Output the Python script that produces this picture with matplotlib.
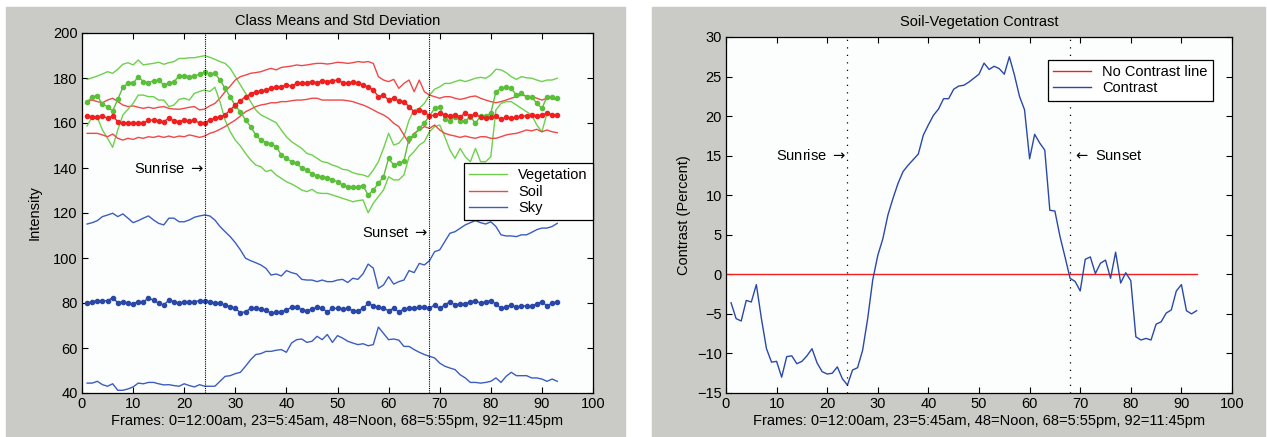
import matplotlib
matplotlib.use('Agg')
import matplotlib.pyplot as plt
from matplotlib.patches import Rectangle

plt.rcParams['font.family'] = ['Liberation Sans', 'DejaVu Sans']

# frame numbers 1..93
frames = list(range(1, 94))

veg_mean = [169.2, 171.7, 172.0, 168.3, 167.3, 165.3, 170.5, 175.9, 177.6, 177.6,
            180.6, 178.4, 177.9, 178.8, 179.1, 176.9, 177.6, 178.4, 180.9, 181.0,
            180.6, 180.9, 181.6, 182.7, 181.6, 182.1, 179.1, 175.4, 171.7, 167.6,
            165.0, 161.3, 158.4, 154.7, 152.4, 151.3, 150.7, 149.5, 145.8, 144.3,
            142.8, 142.1, 139.9, 139.1, 137.3, 136.4, 136.1, 135.7, 134.7, 133.9,
            132.4, 131.7, 131.7, 131.7, 132.1, 128.0, 130.2, 133.2, 136.1, 144.3,
            141.3, 142.1, 143.1, 153.2, 154.7, 157.6, 160.1, 163.1, 166.5, 167.3,
            161.6, 161.0, 162.8, 160.9, 161.0, 162.8, 159.9, 163.1, 163.1, 164.3,
            173.9, 175.4, 175.9, 175.4, 172.4, 173.2, 171.7, 171.7, 168.7, 166.5,
            171.7, 171.7, 171.0]
veg_hi = [179.4, 180.1, 180.9, 181.8, 182.8, 182.1, 183.9, 186.1, 186.8, 185.8,
          188.0, 185.8, 186.2, 186.5, 187.0, 186.1, 186.8, 187.3, 188.7, 188.7,
          189.0, 189.0, 189.5, 189.9, 189.2, 188.3, 187.3, 186.5, 184.3, 180.6,
          176.9, 173.2, 169.5, 165.8, 163.6, 162.5, 161.3, 160.1, 156.9, 153.9,
          151.7, 150.2, 148.7, 146.5, 145.8, 144.3, 142.8, 142.4, 141.3, 140.6,
          139.4, 139.1, 137.9, 137.3, 136.9, 136.1, 139.1, 142.8, 148.7, 155.4,
          150.2, 151.0, 153.9, 161.3, 165.8, 166.5, 168.7, 172.4, 175.0, 176.1,
          177.6, 177.6, 178.4, 179.1, 178.4, 179.1, 179.9, 180.3, 179.9, 181.3,
          183.9, 183.6, 182.4, 180.6, 179.4, 180.6, 180.1, 179.9, 179.1, 178.4,
          179.1, 179.1, 179.9]
veg_lo = [158.7, 162.8, 162.5, 156.9, 153.2, 149.2, 156.9, 163.6, 166.1, 168.7,
          172.4, 172.4, 171.7, 171.7, 170.2, 170.2, 167.3, 168.0, 170.5, 171.0,
          170.2, 173.2, 174.0, 174.7, 174.0, 175.9, 169.5, 161.3, 156.1, 152.4,
          149.8, 146.5, 143.6, 141.3, 140.6, 138.4, 139.1, 136.9, 135.4, 133.9,
          132.9, 131.7, 130.2, 129.5, 130.5, 129.0, 128.7, 128.7, 128.0, 127.3,
          126.5, 125.8, 125.0, 125.5, 125.8, 120.1, 124.3, 127.3, 130.2, 136.1,
          134.7, 134.7, 136.9, 145.0, 147.3, 150.2, 151.7, 156.1, 158.4, 159.1,
          153.9, 148.0, 144.3, 148.7, 145.0, 142.8, 148.7, 142.8, 142.8, 145.0,
          165.8, 168.7, 169.5, 169.5, 168.0, 166.5, 165.0, 163.6, 159.1, 156.1,
          164.3, 163.6, 162.5]

soil_mean = [163.1, 162.8, 162.5, 163.1, 162.1, 163.1, 160.6, 159.9, 160.1, 159.9,
             159.9, 159.9, 161.3, 161.3, 161.0, 160.6, 162.1, 161.0, 160.6, 161.3,
             161.0, 161.3, 159.9, 160.1, 161.3, 162.1, 162.8, 163.6, 165.8, 168.0,
             169.9, 171.7, 172.9, 173.9, 174.2, 174.7, 175.4, 175.9, 176.1, 176.9,
             176.4, 177.6, 177.9, 177.9, 178.4, 177.9, 178.8, 178.4, 178.8, 179.1,
             177.9, 177.6, 178.4, 177.6, 176.9, 175.9, 174.7, 171.7, 172.4, 170.2,
             171.0, 169.8, 169.5, 167.3, 165.0, 165.8, 165.0, 163.1, 163.6, 164.3,
             163.6, 163.1, 163.6, 162.8, 164.3, 163.1, 164.0, 162.5, 162.1, 162.5,
             163.1, 161.6, 162.5, 162.1, 162.5, 163.1, 163.1, 163.6, 163.1, 163.6,
             164.3, 163.6, 163.6]
soil_hi = [169.9, 170.2, 169.5, 169.0, 170.2, 171.0, 169.5, 168.0, 167.3, 167.6,
           167.0, 166.5, 167.0, 166.5, 167.0, 167.3, 166.5, 166.2, 166.1, 166.5,
           167.0, 167.3, 165.8, 166.2, 167.6, 168.7, 171.0, 173.9, 176.4, 179.1,
           180.6, 181.3, 182.1, 182.4, 182.8, 183.6, 184.3, 183.6, 184.7, 185.0,
           185.3, 185.8, 185.5, 185.8, 186.2, 186.5, 186.5, 186.2, 186.5, 187.0,
           186.8, 186.5, 186.8, 187.3, 187.0, 187.3, 186.5, 180.6, 179.1, 178.4,
           179.4, 175.4, 177.6, 179.1, 173.9, 179.1, 173.9, 172.4, 171.7, 171.0,
           171.7, 171.7, 171.0, 170.5, 171.0, 171.7, 172.0, 171.0, 170.2, 169.5,
           169.0, 169.5, 170.2, 171.0, 171.7, 172.4, 172.0, 171.7, 171.0, 170.2,
           171.0, 171.0, 170.2]
soil_lo = [155.4, 155.4, 155.4, 154.7, 153.9, 155.1, 153.2, 152.4, 153.2, 152.7,
           153.6, 153.2, 153.9, 153.6, 154.2, 153.6, 154.2, 153.6, 154.2, 153.9,
           154.7, 154.2, 153.6, 154.2, 155.4, 156.1, 157.2, 158.4, 159.9, 161.3,
           163.1, 165.0, 166.1, 167.3, 168.0, 168.4, 169.0, 169.0, 169.5, 169.5,
           169.9, 170.2, 170.2, 170.5, 171.0, 171.0, 170.2, 170.2, 170.2, 170.2,
           170.2, 169.9, 169.5, 168.7, 168.0, 167.0, 165.8, 164.6, 163.6, 162.1,
           159.9, 158.4, 154.7, 151.0, 155.4, 156.9, 158.4, 157.6, 159.1, 156.9,
           155.4, 154.7, 154.2, 153.6, 154.2, 153.6, 153.2, 153.9, 153.9, 153.2,
           153.2, 153.9, 154.7, 155.1, 155.4, 156.1, 156.9, 156.5, 157.2, 156.1,
           156.9, 156.1, 155.7]

sky_mean = [79.9, 80.6, 81.0, 81.0, 81.0, 82.4, 80.1, 80.6, 79.9, 79.6,
            80.6, 80.6, 82.1, 81.3, 79.9, 79.1, 81.3, 80.6, 79.9, 80.6,
            80.6, 80.6, 81.0, 81.0, 80.6, 79.9, 79.9, 79.1, 78.4, 77.6,
            75.7, 76.1, 77.6, 77.6, 77.2, 76.9, 75.4, 76.1, 76.1, 76.9,
            78.1, 78.4, 76.9, 76.6, 77.2, 78.1, 77.6, 76.1, 77.6, 77.6,
            77.2, 77.6, 76.6, 76.6, 77.6, 79.9, 78.7, 78.1, 77.6, 76.6,
            77.6, 76.1, 77.2, 77.6, 77.6, 78.1, 78.1, 77.6, 79.1, 77.6,
            79.1, 80.6, 79.1, 79.6, 79.6, 80.6, 81.0, 79.9, 80.6, 81.0,
            79.6, 77.6, 78.4, 79.1, 78.1, 78.7, 78.7, 78.7, 79.6, 80.6,
            78.7, 79.9, 80.6]
sky_hi = [115.1, 115.7, 116.6, 118.4, 119.1, 119.9, 118.4, 119.6, 117.7, 115.7,
          116.6, 117.7, 118.7, 116.9, 115.4, 114.7, 117.7, 117.7, 116.1, 116.1,
          116.9, 118.1, 118.7, 119.1, 118.7, 116.9, 114.0, 111.7, 109.5, 106.8,
          103.6, 99.9, 98.8, 97.9, 96.9, 95.4, 92.4, 92.9, 92.0, 94.4,
          93.5, 92.9, 90.5, 90.2, 90.2, 89.5, 90.2, 89.5, 89.5, 90.2,
          90.5, 89.1, 91.0, 90.5, 93.0, 97.3, 95.5, 86.5, 88.0, 91.7,
          88.4, 89.5, 90.2, 94.4, 93.5, 97.6, 96.9, 98.8, 102.8, 103.6,
          107.3, 111.0, 111.7, 113.2, 114.7, 115.7, 116.6, 115.7, 115.1, 116.1,
          114.0, 110.3, 109.8, 109.8, 109.5, 110.3, 110.3, 111.4, 112.6, 113.3,
          113.3, 114.0, 115.4]
sky_lo = [44.4, 44.4, 45.2, 43.7, 43.0, 44.1, 41.2, 41.2, 41.8, 42.7,
          44.4, 44.1, 44.7, 44.7, 44.1, 43.6, 43.7, 43.3, 43.0, 44.1,
          43.3, 42.7, 43.7, 43.0, 43.0, 43.0, 45.2, 47.4, 47.7, 48.6,
          49.2, 51.9, 54.8, 57.1, 57.5, 58.5, 58.5, 59.0, 59.3, 58.1,
          62.2, 63.7, 64.0, 62.5, 63.0, 65.2, 63.7, 66.0, 62.5, 65.5,
          64.4, 63.0, 62.2, 61.5, 61.9, 61.0, 61.5, 69.3, 66.5, 63.7,
          64.0, 63.5, 60.7, 60.7, 59.3, 58.1, 57.1, 56.3, 55.6, 53.3,
          51.9, 51.1, 50.4, 48.1, 46.7, 44.7, 44.7, 44.4, 44.7, 45.2,
          46.7, 44.7, 47.4, 49.2, 47.7, 47.7, 47.7, 46.7, 46.7, 46.2,
          45.2, 46.2, 45.2]

contrast = [-3.6, -5.6, -5.9, -3.3, -3.5, -1.3, -5.6, -9.4, -11.1, -11.0,
            -13.0, -10.4, -10.3, -11.3, -11.0, -10.3, -9.4, -11.2, -12.3, -12.6,
            -12.5, -11.7, -13.2, -14.0, -12.1, -11.8, -9.6, -5.6, -0.7, 2.4,
            4.5, 7.5, 9.6, 11.5, 13.0, 13.8, 14.5, 15.2, 17.6, 18.9,
            20.1, 20.9, 22.2, 22.2, 23.4, 23.8, 23.9, 24.3, 24.8, 25.3,
            26.7, 25.9, 26.3, 26.0, 25.3, 27.5, 25.2, 22.5, 20.8, 14.6,
            17.7, 16.6, 15.7, 8.1, 8.0, 4.8, 2.2, -0.5, -0.9, -2.1,
            1.9, 2.2, 0.1, 1.4, 1.8, -0.5, 2.8, -1.1, 0.2, -0.8,
            -7.9, -8.3, -8.1, -8.3, -6.3, -6.0, -4.9, -4.5, -2.1, -1.3,
            -4.6, -5.0, -4.6]

zero_x = [0, 93]
zero_y = [0, 0]

sunrise_frame = 24
sunset_frame = 68

GREEN = '#5cbf3a'
GREEN_L = '#6fd04c'
RED = '#f02020'
RED_L = '#f04848'
BLUE = '#2a48a8'
BLUE_L = '#3c5cc0'
PANEL = '#cacac7'
FACE = '#fcfefe'

# mathtext arrows are longer than the Liberation glyphs, closer to the original
RARROW = r'$\rightarrow$'
LARROW = r'$\leftarrow$'


def style_axes(ax):
    ax.set_facecolor(FACE)
    ax.set_xlim(0, 100)
    ax.set_xticks(range(0, 101, 10))
    ax.tick_params(direction='in', top=True, right=True, length=4,
                   labelsize=10.5, width=0.8, pad=3)
    for s in ax.spines.values():
        s.set_linewidth(0.9)


fig = plt.figure(figsize=(12.67, 4.37), dpi=100)
fig.patch.set_facecolor('white')
# grey panels behind each axes
for x0, w in [(6, 619), (652, 613)]:
    fig.add_artist(Rectangle((x0 / 1267, 0), w / 1267, 430 / 437,
                             transform=fig.transFigure, color=PANEL, zorder=-10))

# left: class means and std deviation
ax1 = fig.add_axes([82 / 1267, 44 / 437, 511 / 1267, 360 / 437])
style_axes(ax1)
ax1.set_ylim(40, 200)
ax1.set_yticks(range(40, 201, 20))

ax1.plot(frames, veg_hi, color=GREEN_L, lw=1, label='Vegetation')
ax1.plot(frames, soil_hi, color=RED_L, lw=1, label='Soil')
ax1.plot(frames, sky_hi, color=BLUE_L, lw=1, label='Sky')
ax1.plot(frames, veg_lo, color=GREEN_L, lw=1)
ax1.plot(frames, soil_lo, color=RED_L, lw=1)
ax1.plot(frames, sky_lo, color=BLUE_L, lw=1)
ax1.plot(frames, veg_mean, color=GREEN, lw=1, marker='o', ms=3.0, mec=GREEN)
ax1.plot(frames, soil_mean, color=RED, lw=1, marker='o', ms=3.0, mec=RED)
ax1.plot(frames, sky_mean, color=BLUE, lw=1, marker='o', ms=3.0, mec=BLUE)

ax1.axvline(sunrise_frame, color='black', lw=0.8, ls=(0, (1, 1)))
ax1.axvline(sunset_frame, color='black', lw=0.8, ls=(0, (1, 1)))
ax1.text(sunrise_frame - 0.2, 139.6, 'Sunrise ' + RARROW, ha='right', va='center', fontsize=10.5)
ax1.text(sunset_frame - 0.2, 111.0, 'Sunset ' + RARROW, ha='right', va='center', fontsize=10.5)

leg1 = ax1.legend(loc='upper right', bbox_to_anchor=(1.0, 0.638), borderaxespad=0,
                  fontsize=10.5, fancybox=False, edgecolor='black', framealpha=1,
                  handlelength=2.6, borderpad=0.35, labelspacing=0.15, handletextpad=0.8)
leg1.get_frame().set_linewidth(0.9)

ax1.set_title('Class Means and Std Deviation', fontsize=10.5, pad=6)
ax1.set_xlabel('Frames: 0=12:00am, 23=5:45am, 48=Noon, 68=5:55pm, 92=11:45pm',
               fontsize=10.5, labelpad=2)
ax1.set_ylabel('Intensity', fontsize=10.5, labelpad=8)

# right: soil-vegetation contrast
ax2 = fig.add_axes([726 / 1267, 44 / 437, 506 / 1267, 356 / 437])
style_axes(ax2)
ax2.set_ylim(-15, 30)
ax2.set_yticks(range(-15, 31, 5))

ax2.plot(zero_x, zero_y, color=RED, lw=1, label='No Contrast line')
ax2.plot(frames, contrast, color=BLUE, lw=1, label='Contrast')
ax2.axvline(sunrise_frame, color='black', lw=0.9, ls=(0, (1, 5)))
ax2.axvline(sunset_frame, color='black', lw=0.9, ls=(0, (1, 5)))
ax2.text(sunrise_frame - 0.3, 15.0, 'Sunrise ' + RARROW, ha='right', va='center', fontsize=10.5)
ax2.text(sunset_frame + 0.5, 15.0, LARROW + ' Sunset', ha='left', va='center', fontsize=10.5)

leg2 = ax2.legend(loc='upper right', bbox_to_anchor=(0.962, 0.935), borderaxespad=0,
                  fontsize=10.5, fancybox=False, edgecolor='black', framealpha=1,
                  handlelength=2.6, borderpad=0.35, labelspacing=0.15, handletextpad=0.8)
leg2.get_frame().set_linewidth(0.9)

ax2.set_title('Soil-Vegetation Contrast', fontsize=10.5, pad=8)
ax2.set_xlabel('Frames: 0=12:00am, 23=5:45am, 48=Noon, 68=5:55pm, 92=11:45pm',
               fontsize=10.5, labelpad=2)
ax2.set_ylabel('Contrast (Percent)', fontsize=10.5, labelpad=4)

fig.savefig('out.png', dpi=100, facecolor='white')
